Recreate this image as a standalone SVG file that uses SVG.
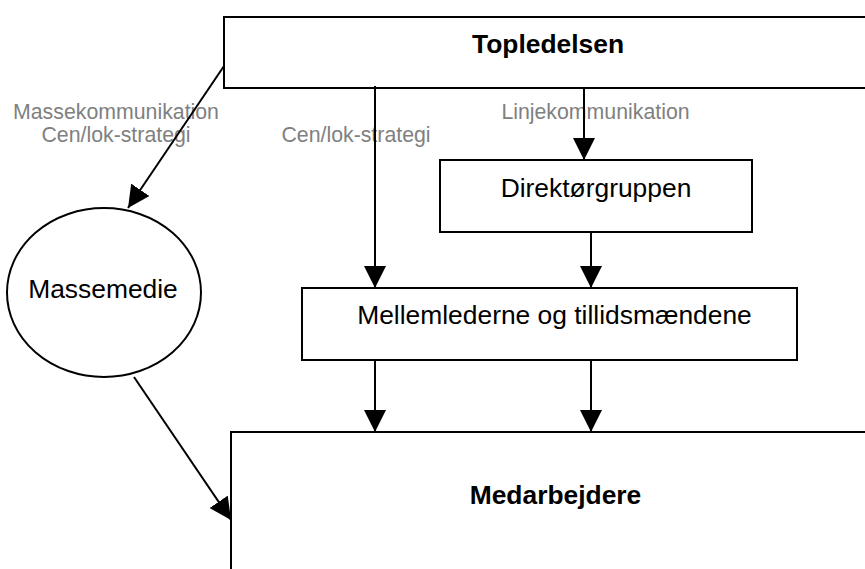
<svg xmlns="http://www.w3.org/2000/svg" width="865" height="569" viewBox="0 0 865 569">
<style>
.box{fill:#fff;stroke:#000;stroke-width:2}
.lbl{font-family:"Liberation Sans",Arial,sans-serif;font-size:26.4px;fill:#000;text-anchor:middle}
.b{font-weight:bold}
.g{font-family:"Liberation Sans",Arial,sans-serif;font-size:21.3px;fill:#808080;text-anchor:middle}
.c{stroke:#000;stroke-width:2;fill:none;marker-end:url(#ah)}
</style>
<defs>
<marker id="ah" markerUnits="userSpaceOnUse" markerWidth="22" markerHeight="22" viewBox="0 0 20 20" refX="20" refY="10" orient="auto">
<path d="M0,0 L20,10 L0,20 Z" fill="#000"/>
</marker>
</defs>
<rect width="865" height="569" fill="#fff"/>
<g id="labels">
<text class="g" x="116" y="119">Massekommunikation</text>
<text class="g" x="116" y="142">Cen/lok-strategi</text>
<text class="g" x="356" y="142">Cen/lok-strategi</text>
<text class="g" x="595.5" y="119">Linjekommunikation</text>
</g>
<g id="topledelsen">
<rect class="box" x="224" y="17" width="700" height="71"/>
<text class="lbl b" x="548" y="53">Topledelsen</text>
</g>
<g id="direktorgruppen">
<rect class="box" x="440" y="160" width="312" height="72"/>
<text class="lbl" x="596" y="197">Direktørgruppen</text>
</g>
<g id="mellemlederne">
<rect class="box" x="302" y="288" width="495" height="72"/>
<text class="lbl" x="554.5" y="324">Mellemlederne og tillidsmændene</text>
</g>
<g id="massemedie">
<ellipse class="box" cx="104" cy="292.5" rx="97" ry="84.5"/>
<text class="lbl" x="103" y="298">Massemedie</text>
</g>
<g id="medarbejdere">
<rect class="box" x="231" y="432" width="700" height="200"/>
<text class="lbl b" x="555.5" y="504">Medarbejdere</text>
</g>
<g id="connectors">
<line class="c" x1="224" y1="66" x2="128" y2="208"/>
<line class="c" x1="375" y1="86" x2="375" y2="288"/>
<line class="c" x1="584" y1="88" x2="584" y2="160"/>
<line class="c" x1="591" y1="232" x2="591" y2="288"/>
<line class="c" x1="375" y1="360" x2="375" y2="432"/>
<line class="c" x1="591" y1="360" x2="591" y2="432"/>
<line class="c" x1="134" y1="377" x2="231" y2="520"/>
</g>
</svg>
